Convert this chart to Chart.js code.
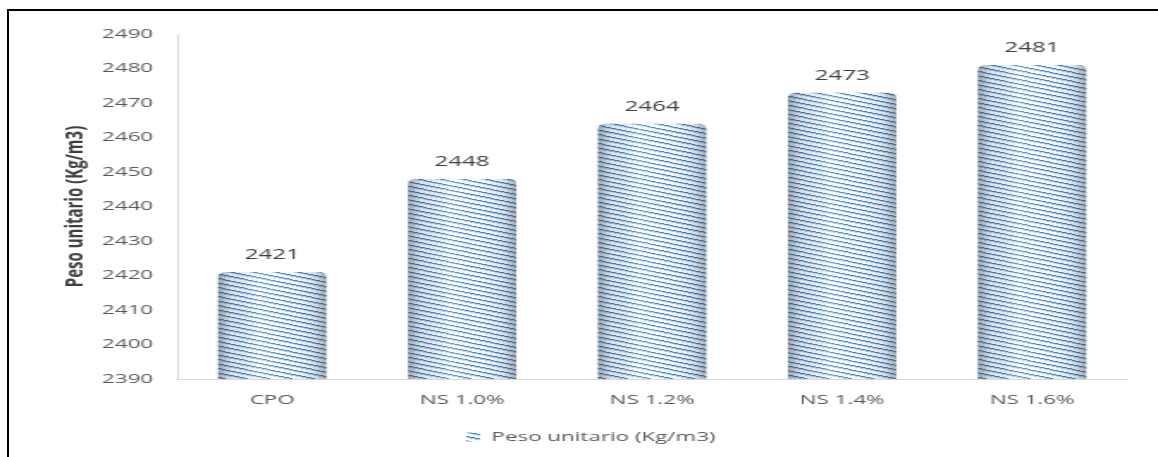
<!DOCTYPE html>
<html>
<head>
<meta charset="utf-8">
<script src="https://cdn.jsdelivr.net/npm/chart.js@4.4.0/dist/chart.umd.min.js"></script>
<style>
  html, body { margin: 0; padding: 0; background: #ffffff; overflow: hidden; }
  #wrap {
    position: absolute; left: 0; top: 0;
    width: 673px; height: 457px;
    transform: scaleX(1.72065); transform-origin: 0 0;
  }
  #frame {
    position: absolute; left: 7px; top: 9px; width: 1200px; height: 500px;
    border-top: 2px solid #000; border-left: 2px solid #000;
    pointer-events: none;
  }
</style>
</head>
<body>
<div id="wrap"><canvas id="chart" width="673" height="457"></canvas></div>
<div id="frame"></div>
<script>
// Unit weight of concrete per mix
const categories = ['CPO', 'NS 1.0%', 'NS 1.2%', 'NS 1.4%', 'NS 1.6%'];
const pesoUnitario = [2421, 2448, 2464, 2473, 2481];
const seriesName = 'Peso unitario (Kg/m3)';
const yAxisTitle = 'Peso unitario (Kg/m3)';
const yMin = 2390, yMax = 2490, yStep = 10;

// Diagonal striped fill used for the bars
function makeStripes() {
  const w = 26, h = 9, period = 4.5;
  const c = document.createElement('canvas');
  c.width = w; c.height = h;
  const g = c.getContext('2d');
  const img = g.createImageData(w, h);
  for (let y = 0; y < h; y++) {
    for (let x = 0; x < w; x++) {
      let ph = ((y + 0.5) - (x + 0.5) * h / w) % period;
      if (ph < 0) ph += period;
      ph /= period;
      let col;
      if (ph < 0.22) col = [62, 124, 188];
      else if (ph < 0.42) col = [172, 206, 236];
      else col = [248, 251, 254];
      const k = (y * w + x) * 4;
      img.data[k] = col[0]; img.data[k + 1] = col[1]; img.data[k + 2] = col[2]; img.data[k + 3] = 255;
    }
  }
  g.putImageData(img, 0, 0);
  return document.getElementById('chart').getContext('2d').createPattern(c, 'repeat');
}

// Round-column shading laid over each bar
const columnShade = {
  id: 'columnShade',
  afterDatasetsDraw(chart) {
    const ctx = chart.ctx;
    const meta = chart.getDatasetMeta(0);
    const bottom = chart.chartArea.bottom;
    meta.data.forEach(bar => {
      const p = bar.getProps(['x', 'y', 'width'], true);
      const l = p.x - p.width / 2, r = p.x + p.width / 2;
      const grad = ctx.createLinearGradient(l, 0, r, 0);
      grad.addColorStop(0, 'rgba(70,80,92,0.50)');
      grad.addColorStop(0.12, 'rgba(70,80,92,0.15)');
      grad.addColorStop(0.38, 'rgba(255,255,255,0.25)');
      grad.addColorStop(0.62, 'rgba(255,255,255,0.08)');
      grad.addColorStop(0.88, 'rgba(70,80,92,0.15)');
      grad.addColorStop(1, 'rgba(70,80,92,0.45)');
      const rad = 5;
      ctx.save();
      ctx.beginPath();
      ctx.moveTo(l, bottom);
      ctx.lineTo(l, p.y + rad);
      ctx.quadraticCurveTo(l, p.y, l + rad, p.y);
      ctx.lineTo(r - rad, p.y);
      ctx.quadraticCurveTo(r, p.y, r, p.y + rad);
      ctx.lineTo(r, bottom);
      ctx.closePath();
      ctx.fillStyle = grad;
      ctx.fill();
      ctx.restore();
    });
  }
};

// Value printed above each column
const valueLabels = {
  id: 'valueLabels',
  afterDatasetsDraw(chart) {
    const ctx = chart.ctx;
    const meta = chart.getDatasetMeta(0);
    ctx.save();
    ctx.font = '14px "Open Sans"';
    ctx.fillStyle = '#404040';
    ctx.textAlign = 'center';
    ctx.textBaseline = 'middle';
    meta.data.forEach((bar, i) => {
      ctx.fillText(String(pesoUnitario[i]), bar.x, bar.y - 17);
    });
    ctx.restore();
  }
};

const stripes = makeStripes();

new Chart(document.getElementById('chart'), {
  type: 'bar',
  data: {
    labels: categories,
    datasets: [{
      label: seriesName,
      data: pesoUnitario,
      backgroundColor: stripes,
      borderWidth: 0,
      borderRadius: { topLeft: 5, topRight: 5, bottomLeft: 0, bottomRight: 0 },
      borderSkipped: 'bottom',
      categoryPercentage: 1,
      barPercentage: 0.57
    }]
  },
  options: {
    responsive: false,
    devicePixelRatio: 1,
    animation: false,
    layout: { padding: { top: 34, right: 18, bottom: 3.5, left: 32 } },
    plugins: {
      tooltip: { enabled: false },
      legend: {
        position: 'bottom',
        labels: {
          boxWidth: 8, boxHeight: 9, padding: 10,
          color: '#595959',
          font: { family: 'Open Sans', size: 13 }
        }
      }
    },
    scales: {
      x: {
        grid: { display: false, drawTicks: false },
        border: { display: true, color: '#d9d9d9', width: 1 },
        ticks: { color: '#595959', padding: 13, font: { family: 'Open Sans', size: 13 } },
        afterFit(s) { s.height = 41.5; }
      },
      y: {
        min: yMin, max: yMax,
        grid: { display: false, drawTicks: false },
        border: { display: true, color: '#d9d9d9', width: 1 },
        ticks: {
          stepSize: yStep, color: '#595959', padding: 14,
          font: { family: 'Open Sans', size: 13 },
          callback: v => String(v)
        },
        title: {
          display: true, text: yAxisTitle, color: '#404040',
          padding: { top: 3, bottom: 0 },
          font: { family: 'Open Sans', size: 15, weight: 'bold' }
        },
        afterFit(s) { s.width = 71; }
      }
    }
  },
  plugins: [columnShade, valueLabels]
});
</script>
</body>
</html>
